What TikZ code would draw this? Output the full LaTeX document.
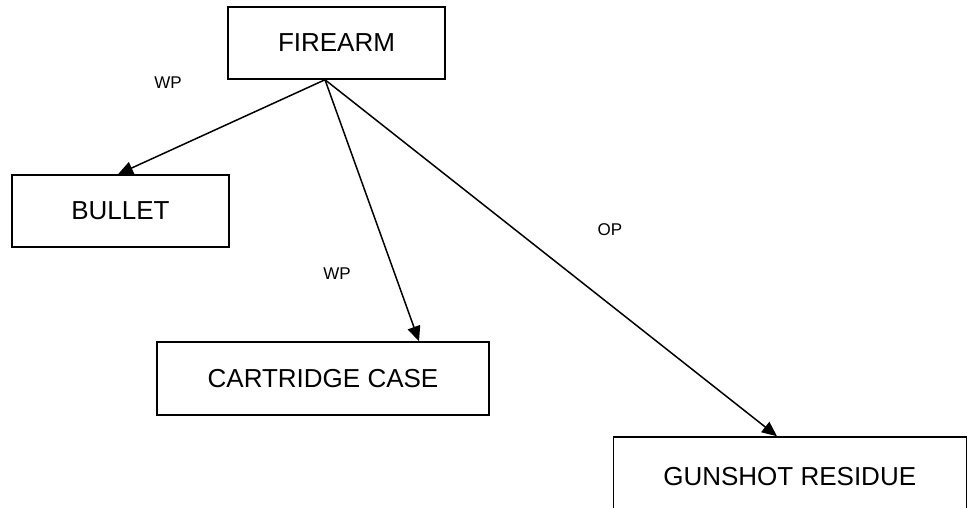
\documentclass[tikz,border=0pt]{standalone}
\usepackage{fontspec}
\setmainfont{Liberation Sans}
\usetikzlibrary{arrows.meta}

\begin{document}
\begin{tikzpicture}
            [x=1pt, y=-1pt, >={Triangle[length=15pt,width=13pt]}, line width=1.5pt,
             box/.style={shape=rectangle, draw=black, inner sep=0pt, font=\fontsize{26}{30}\selectfont},
             tag/.style={font=\fontsize{17}{20}\selectfont}]
            \useasboundingbox (0, 0) rectangle (968, 508);
            \node[box, minimum width=217pt, minimum height=72pt] (firearm) at (336.5, 43) {FIREARM};
            \node[box, minimum width=217pt, minimum height=72pt] (bullet) at (120.5, 211) {BULLET};
            \node[box, minimum width=332pt, minimum height=73pt] (cartridge) at (323, 378.5) {CARTRIDGE CASE};
            \node[box, minimum width=353pt, minimum height=80pt] (gunshot) at (789.75, 477) {GUNSHOT RESIDUE};

            \node[tag] (wpbullet) at (168, 83) {WP};
            \node[tag] (wpcartridge) at (337, 274) {WP};
            \node[tag] (opgunshot) at (610, 230) {OP};

            \path [->] ([xshift=-11.5pt]firearm.south) edge ([xshift=-2.5pt]bullet.north);
            \path [->] ([xshift=-11.5pt]firearm.south) edge ([xshift=96pt]cartridge.north);
            \path [->] ([xshift=-11.5pt]firearm.south) edge ([xshift=-12.75pt]gunshot.north);
        \end{tikzpicture}
\end{document}
